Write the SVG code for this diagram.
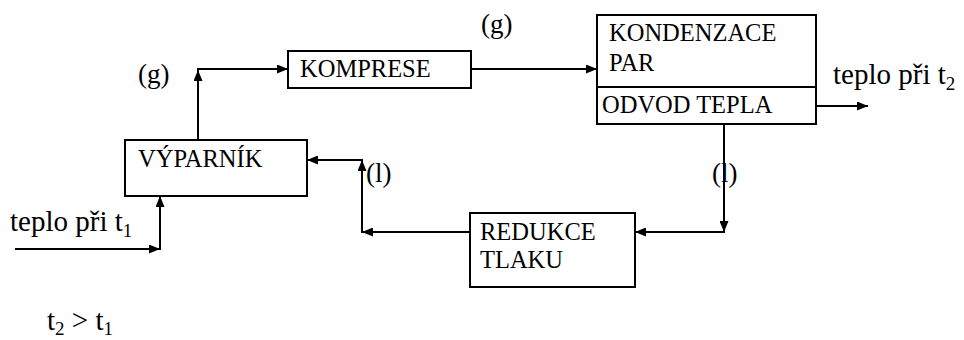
<svg xmlns="http://www.w3.org/2000/svg" width="964" height="340" viewBox="0 0 964 340">
<defs>
<marker id="ah" markerWidth="11" markerHeight="9" refX="11" refY="4.5" orient="auto" markerUnits="userSpaceOnUse">
<path d="M0,0 L11,4.5 L0,9 Z" fill="#000"/>
</marker>
<style>
.box{fill:#fff;stroke:#000;stroke-width:2}
text{font-family:'Liberation Serif','Times New Roman','DejaVu Serif',serif;fill:#000}
.bt{font-size:24.5px}
.lt{font-size:27px}
.tt{font-size:29px}
.sub{font-size:19px}
.c{fill:none;stroke:#000;stroke-width:2;marker-end:url(#ah)}
</style>
</defs>
<rect width="964" height="340" fill="#fff"/>
<g id="connectors">
<path class="c" d="M198,140 V70"/>
<path class="c" d="M197,69 H288"/>
<path class="c" d="M471,69 H597"/>
<path class="c" d="M816,106 H868"/>
<path class="c" d="M724,124 V232"/>
<path class="c" d="M725,232 H635"/>
<path class="c" d="M470,232 H362"/>
<path class="c" d="M362,233 V160"/>
<path class="c" d="M363,160 H307"/>
<path class="c" d="M15,249 H160"/>
<path class="c" d="M160,250 V196"/>
</g>
<g id="vyparnik">
<rect class="box" x="125" y="140" width="182" height="56"/>
<text class="bt" x="138" y="167" font-family="Liberation Serif, serif">VÝPARNÍK</text>
</g>
<g id="komprese">
<rect class="box" x="288" y="51" width="183" height="37"/>
<text class="bt" x="300" y="77" font-family="Liberation Serif, serif">KOMPRESE</text>
</g>
<g id="kondenzace">
<rect class="box" x="597" y="15" width="219" height="109"/>
<line x1="597" y1="87" x2="816" y2="87" stroke="#000" stroke-width="2"/>
<text class="bt" x="609" y="41" font-family="Liberation Serif, serif">KONDENZACE</text>
<text class="bt" x="609" y="71" font-family="Liberation Serif, serif">PAR</text>
<text class="bt" x="602" y="113" font-family="Liberation Serif, serif">ODVOD TEPLA</text>
</g>
<g id="redukce">
<rect class="box" x="470" y="213" width="165" height="74"/>
<text class="bt" x="480" y="240" font-family="Liberation Serif, serif">REDUKCE</text>
<text class="bt" x="480" y="268" font-family="Liberation Serif, serif">TLAKU</text>
</g>
<g id="labels" font-family="Liberation Serif, serif">
<text class="lt" x="138" y="83">(g)</text>
<text class="lt" x="481" y="33">(g)</text>
<text class="lt" x="366" y="182">(l)</text>
<text class="lt" x="712" y="182">(l)</text>
<text class="tt" x="10" y="231">teplo při t<tspan class="sub" dy="6">1</tspan></text>
<text class="tt" x="833" y="84">teplo při t<tspan class="sub" dy="6">2</tspan></text>
<text class="tt" x="47" y="330">t<tspan class="sub" dy="5">2</tspan><tspan dy="-5"> &gt; t</tspan><tspan class="sub" dy="5">1</tspan></text>
</g>
</svg>
